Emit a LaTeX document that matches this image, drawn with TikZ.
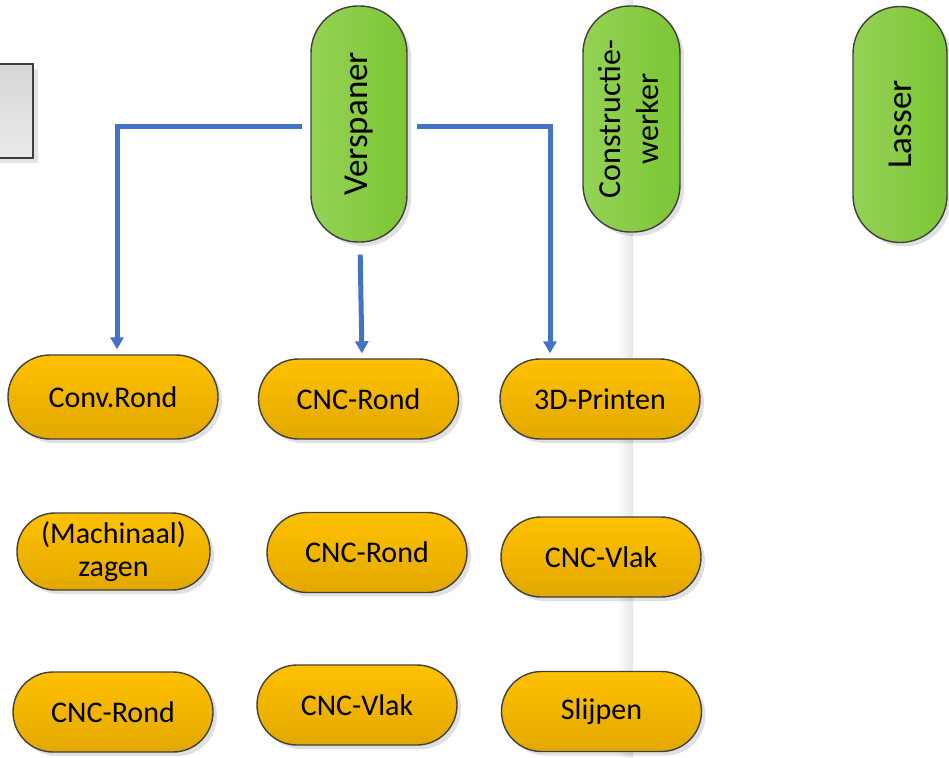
\documentclass[tikz,border=0pt]{standalone}
\usepackage{fontspec}
\setmainfont{Carlito}
\usetikzlibrary{arrows.meta}
\usetikzlibrary{shadows}

\definecolor{flowblue}{RGB}{68,114,196}
\definecolor{rimgray}{RGB}{64,64,64}
\definecolor{greenlight}{RGB}{148,210,86}
\definecolor{greendark}{RGB}{124,198,52}
\definecolor{orangetop}{RGB}{255,193,0}
\definecolor{orangebot}{RGB}{226,168,0}

\tikzset{
	task/.style={draw=rimgray, line width=1.4pt, rounded corners=40pt, minimum width=200pt, minimum height=80pt,
		top color=orangetop, bottom color=orangebot, align=center, font=\fontsize{30}{33}\selectfont,
		drop shadow={shadow xshift=4pt, shadow yshift=-4pt, fill=black, opacity=.12}},
	role/.style={draw=rimgray, line width=1.4pt, rounded corners=47pt, minimum width=96pt, minimum height=236pt,
		left color=greenlight, right color=greendark, font=\fontsize{35}{38}\selectfont,
		drop shadow={shadow xshift=4pt, shadow yshift=-4pt, fill=black, opacity=.12}},
	flow/.style={draw=flowblue, line width=5pt, -{Triangle[width=13pt,length=12pt]}}
}

\begin{document}
\begin{tikzpicture}[x=1pt, y=-1pt]
			\useasboundingbox (0, 0) rectangle (949, 757);
			\shade[left color=white, right color=black!10] (617, 0) rectangle (633, 757);
			\node[draw=rimgray, line width=2pt, top color=black!16, bottom color=black!8, minimum width=140pt, minimum height=94pt,
				drop shadow={shadow xshift=5pt, shadow yshift=-5pt, fill=black, opacity=.1}] (lane) at (-37, 111) {};

			\node[role] (versp) at (359, 124) {\rotatebox{90}{Verspaner}};
			\node[role, minimum width=97pt, minimum height=226pt, font=\fontsize{32}{38}\selectfont] (constr) at (631.5, 119)
				{\rotatebox{90}{\begin{tabular}{@{}c@{}}Constructie-\\werker\end{tabular}}};
			\node[role, minimum width=94pt] (lasser) at (900, 124.5) {\rotatebox{90}{Lasser}};

			\node[task, minimum width=210pt, minimum height=84pt, rounded corners=42pt] (conv) at (113, 397) {Conv.Rond};
			\node[task] (cncrA) at (358.5, 399) {CNC-Rond};
			\node[task] (print) at (600, 399) {3D-Printen};
			\node[task, minimum width=193pt, minimum height=77pt, rounded corners=38pt] (zagen) at (113.5, 551.5) {(Machinaal)\\zagen};
			\node[task] (cncrB) at (367, 552.5) {CNC-Rond};
			\node[task] (vlakA) at (601, 557) {CNC-Vlak};
			\node[task] (cncrC) at (113, 712) {CNC-Rond};
			\node[task] (vlakB) at (357, 705) {CNC-Vlak};
			\node[task] (slijp) at (601.5, 711.5) {Slijpen};

			\draw[flow, shorten <=8pt, shorten >=5pt] ([yshift=-2.5pt]versp.west) -| ([xshift=4pt]conv.north);
			\draw[flow, shorten <=12pt, shorten >=5pt] ([xshift=1pt]versp.south) -- ([xshift=3.5pt]cncrA.north);
			\draw[flow, shorten <=9pt, shorten >=5pt] ([yshift=-2.5pt]versp.east) -| ([xshift=-50pt]print.north);
		\end{tikzpicture}
\end{document}
